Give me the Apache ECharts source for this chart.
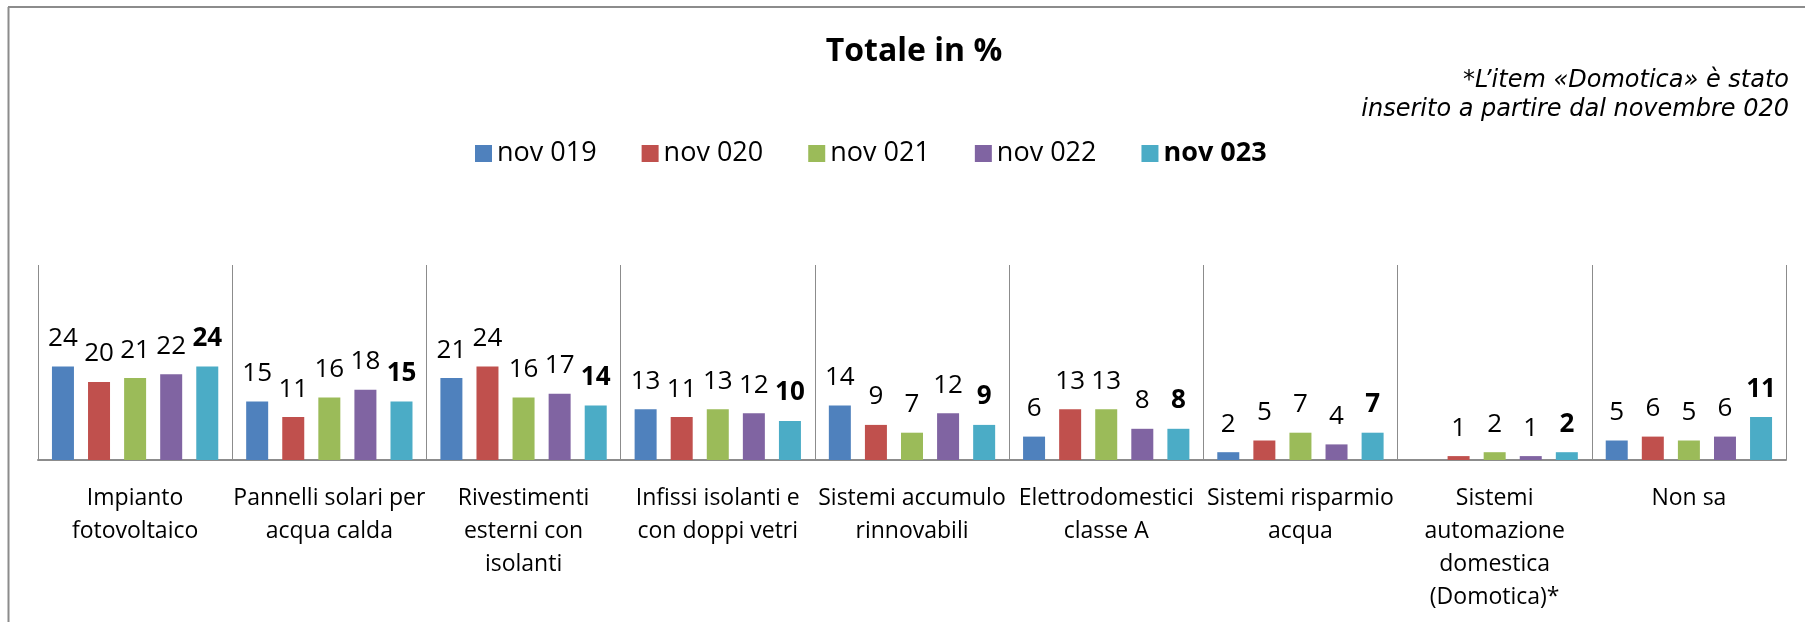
<!DOCTYPE html>
<html>
<head>
<meta charset="utf-8">
<script src="https://cdn.jsdelivr.net/npm/echarts@6/dist/echarts.min.js"></script>
<style>
  html, body { margin: 0; padding: 0; background: #fff; }
  #chart { width: 1805px; height: 622px; }
</style>
</head>
<body>
<div id="chart"></div>
<script>
var categories = [
  'Impianto\nfotovoltaico',
  'Pannelli solari per\nacqua calda',
  'Rivestimenti\nesterni con\nisolanti',
  'Infissi isolanti e\ncon doppi vetri',
  'Sistemi accumulo\nrinnovabili',
  'Elettrodomestici\nclasse A',
  'Sistemi risparmio\nacqua',
  'Sistemi\nautomazione\ndomestica\n(Domotica)*',
  'Non sa'
]
var seriesNames = ['nov 019', 'nov 020', 'nov 021', 'nov 022', 'nov 023']
var nov019 = [24, 15, 21, 13, 14, 6, 2, '-', 5]
var nov020 = [20, 11, 24, 11, 9, 13, 5, 1, 6]
var nov021 = [21, 16, 16, 13, 7, 13, 7, 2, 5]
var nov022 = [22, 18, 17, 12, 12, 8, 4, 1, 6]
var nov023 = [24, 15, 14, 10, 9, 8, 7, 2, 11]
var colors = ['#4F81BD', '#C0504D', '#9BBB59', '#8064A2', '#4BACC6']

var allData = [nov019, nov020, nov021, nov022, nov023]

var chart = echarts.init(document.getElementById('chart'))

var series = allData.map(function (d, i) {
  var last = i === allData.length - 1
  return {
    name: seriesNames[i],
    type: 'bar',
    data: d,
    barWidth: 22,
    barGap: '64%',
    itemStyle: { color: colors[i] },
    label: {
      show: true,
      position: 'top',
      distance: 15,
      fontFamily: 'Open Sans',
      fontSize: 26,
      fontWeight: last ? 'bold' : 'normal',
      color: '#000'
    }
  }
})

var option = {
  animation: false,
  color: colors,
  title: {
    text: 'Totale in %',
    left: 909,
    textAlign: 'center',
    top: 31,
    textStyle: {
      fontFamily: 'Open Sans',
      fontSize: 32,
      fontWeight: 'bold',
      color: '#000'
    }
  },
  legend: {
    left: 470,
    top: 135,
    itemWidth: 17,
    itemHeight: 17,
    itemGap: 45,
    icon: 'rect',
    data: seriesNames,
    formatter: function (name) {
      return name === 'nov 023' ? '{b|' + name + '}' : name
    },
    textStyle: {
      fontFamily: 'Open Sans',
      fontSize: 27,
      color: '#000',
      rich: {
        b: { fontFamily: 'Open Sans', fontSize: 27, fontWeight: 'bold', color: '#000' }
      }
    }
  },
  graphic: [
    {
      type: 'text',
      right: 16,
      top: 66,
      style: {
        text: '*L\u2019item \u00abDomotica\u00bb \u00e8 stato\ninserito a partire dal novembre 020',
        textAlign: 'right',
        font: 'italic 24px "DejaVu Sans"',
        lineHeight: 29,
        fill: '#000'
      }
    },
    {
      type: 'line',
      shape: { x1: 8, y1: 7, x2: 1805, y2: 7 },
      style: { stroke: '#8c8c8c', lineWidth: 2 }
    },
    {
      type: 'line',
      shape: { x1: 8.5, y1: 7, x2: 8.5, y2: 622 },
      style: { stroke: '#8c8c8c', lineWidth: 2 }
    }
  ],
  grid: {
    left: 38,
    right: 19,
    top: 265,
    bottom: 162
  },
  xAxis: {
    type: 'category',
    data: categories,
    axisLine: { lineStyle: { color: '#8c8c8c', width: 2 } },
    axisTick: { show: false },
    splitLine: { show: true, interval: 0, lineStyle: { color: '#8c8c8c', width: 1 } },
    axisLabel: {
      interval: 0,
      margin: 22,
      fontFamily: 'Open Sans',
      fontSize: 23,
      lineHeight: 33,
      color: '#000'
    }
  },
  yAxis: {
    type: 'value',
    min: 0,
    max: 50,
    show: false,
    splitLine: { show: false }
  },
  series: series
}

chart.setOption(option)
</script>
</body>
</html>
